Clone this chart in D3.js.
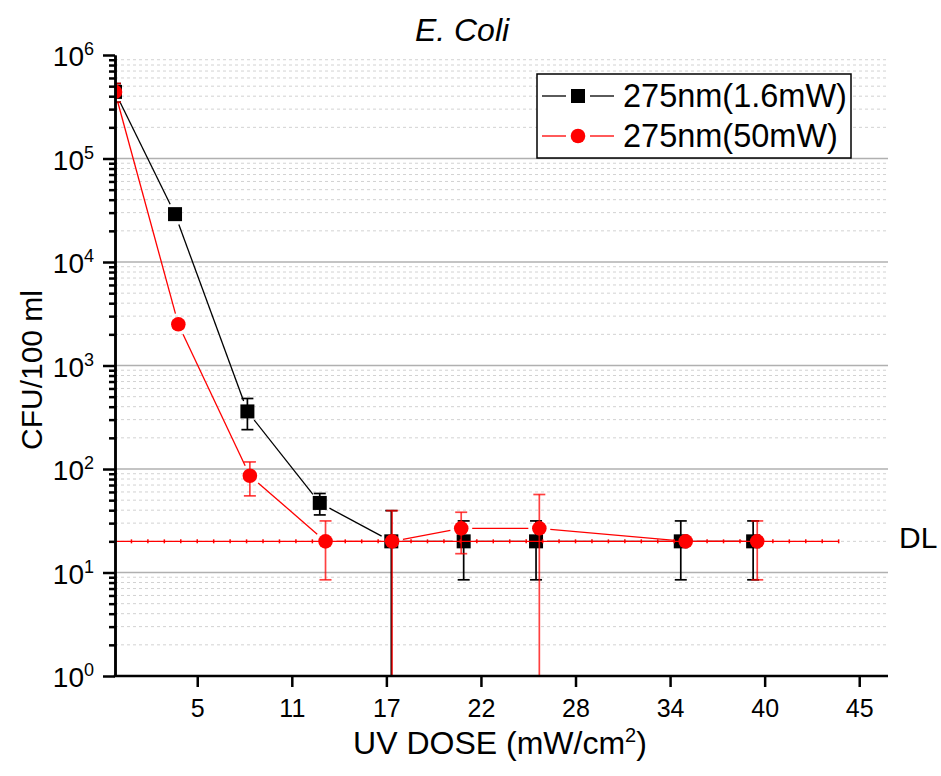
<!DOCTYPE html>
<html>
<head>
<meta charset="utf-8">
<script src="https://cdn.jsdelivr.net/npm/d3@7"></script>
<style>
  body { margin: 0; background: #fff; }
  text { font-family: "Liberation Sans", Arial, sans-serif; fill: #000; }
</style>
</head>
<body>
<div id="chart"></div>
<script>
// data
var doseBlack = [0, 3.65, 8.05, 12.45, 16.8, 21.2, 25.6, 34.4, 38.8];
var cfuBlack = [440000, 29000, 360, 47, 20, 20, 20, 20, 20];
var errBlack = [90000, 3000, 120, 11, 19.6, 11.5, 11.5, 11.5, 11.5];

var doseRed = [0, 3.85, 8.2, 12.8, 16.85, 21.05, 25.8, 34.7, 39.05];
var cfuRed = [440000, 2500, 86, 20, 20, 26.7, 26.7, 20, 20];
var errRed = [90000, 200, 31, 11.5, 19.6, 11.5, 30, 0, 11.5];

// detection limit line, one marker per unit of dose
var dlDose = [0, 1, 2, 3, 4, 5, 6, 7, 8, 9, 10, 11, 12, 13, 14, 15, 16, 17, 18, 19, 20, 21,
              22, 23, 24, 25, 26, 27, 28, 29, 30, 31, 32, 33, 34, 35, 36, 37, 38, 39, 40, 41, 42, 43, 44];
var dlValue = 20;

var xTicks = [5, 10.75, 16.5, 22.25, 28, 33.75, 39.5, 45.25];
var xTickLabels = ['5', '11', '17', '22', '28', '34', '40', '45'];
var yMajor = [1, 10, 100, 1000, 10000, 100000, 1000000];
var yExp = ['0', '1', '2', '3', '4', '5', '6'];
var seriesNames = ['275nm(1.6mW)', '275nm(50mW)'];

var W = 941, H = 776;
var L = 115, R = 888, T = 55, B = 676;

var svg = d3.select('#chart').append('svg').attr('width', W).attr('height', H);

var x = d3.scaleLinear().domain([0, 47]).range([L, R]);
var y = d3.scaleLog().domain([1, 1e6]).range([B, T]).clamp(true);

var yMinor = [];
yMajor.slice(0, -1).forEach(function(d) {
  for (var k = 2; k <= 9; k++) yMinor.push(d * k);
});

// grid
svg.append('g').selectAll('line.minor').data(yMinor).enter().append('line')
  .attr('x1', L).attr('x2', R)
  .attr('y1', function(d) { return y(d); }).attr('y2', function(d) { return y(d); })
  .style('stroke', '#d2d2d2').style('stroke-width', 1).style('stroke-dasharray', '3,3');
svg.append('g').selectAll('line.major').data(yMajor.slice(1, -1)).enter().append('line')
  .attr('x1', L).attr('x2', R)
  .attr('y1', function(d) { return y(d); }).attr('y2', function(d) { return y(d); })
  .style('stroke', '#b0b0b0').style('stroke-width', 1.5);

svg.append('clipPath').attr('id', 'plot').append('rect')
  .attr('x', L).attr('y', T).attr('width', R - L).attr('height', B - T);

var plot = svg.append('g').attr('clip-path', 'url(#plot)');

// line segments with a gap around each symbol
function segments(xs, ys, gap) {
  var out = [];
  for (var i = 0; i < xs.length - 1; i++) {
    var x1 = x(xs[i]), y1 = y(ys[i]), x2 = x(xs[i + 1]), y2 = y(ys[i + 1]);
    var len = Math.hypot(x2 - x1, y2 - y1);
    if (len <= 2 * gap) continue;
    var ux = (x2 - x1) / len, uy = (y2 - y1) / len;
    out.push([x1 + ux * gap, y1 + uy * gap, x2 - ux * gap, y2 - uy * gap]);
  }
  return out;
}

function drawSeries(xs, ys, es, color, barColor, barOpacity, symbol) {
  var g = plot.append('g');
  g.selectAll('line.seg').data(segments(xs, ys, 11)).enter().append('line')
    .attr('x1', function(d) { return d[0]; }).attr('y1', function(d) { return d[1]; })
    .attr('x2', function(d) { return d[2]; }).attr('y2', function(d) { return d[3]; })
    .style('stroke', color).style('stroke-width', 1.3);

  var pts = xs.map(function(d, i) { return { x: d, y: ys[i], e: es[i] }; });
  var bars = g.selectAll('g.bar').data(pts.filter(function(d) { return d.e > 0; })).enter().append('g')
    .style('stroke', barColor).style('stroke-opacity', barOpacity).style('stroke-width', 1.7);
  bars.append('line')
    .attr('x1', function(d) { return x(d.x); }).attr('x2', function(d) { return x(d.x); })
    .attr('y1', function(d) { return y(d.y + d.e); })
    .attr('y2', function(d) { return d.y - d.e > 0 ? y(d.y - d.e) : B + 5; });
  bars.append('line')
    .attr('x1', function(d) { return x(d.x) - 6; }).attr('x2', function(d) { return x(d.x) + 6; })
    .attr('y1', function(d) { return y(d.y + d.e); }).attr('y2', function(d) { return y(d.y + d.e); });
  bars.filter(function(d) { return d.y - d.e > 0; }).append('line')
    .attr('x1', function(d) { return x(d.x) - 6; }).attr('x2', function(d) { return x(d.x) + 6; })
    .attr('y1', function(d) { return y(d.y - d.e); }).attr('y2', function(d) { return y(d.y - d.e); });

  if (symbol === 'square') {
    g.selectAll('rect.pt').data(pts).enter().append('rect')
      .attr('x', function(d) { return x(d.x) - 7; }).attr('y', function(d) { return y(d.y) - 7; })
      .attr('width', 14).attr('height', 14).style('fill', color);
  } else {
    g.selectAll('circle.pt').data(pts).enter().append('circle')
      .attr('cx', function(d) { return x(d.x); }).attr('cy', function(d) { return y(d.y); })
      .attr('r', 7.3).style('fill', color);
  }
}

drawSeries(doseBlack, cfuBlack, errBlack, '#000', '#000', 1, 'square');

// detection limit
plot.append('line')
  .attr('x1', x(dlDose[0])).attr('x2', x(dlDose[dlDose.length - 1]))
  .attr('y1', y(dlValue)).attr('y2', y(dlValue))
  .style('stroke', '#ff0000').style('stroke-width', 1.3);
plot.selectAll('line.dl').data(dlDose).enter().append('line')
  .attr('x1', function(d) { return x(d); }).attr('x2', function(d) { return x(d); })
  .attr('y1', y(dlValue) - 2).attr('y2', y(dlValue) + 2)
  .style('stroke', '#ff0000').style('stroke-width', 1.5);

drawSeries(doseRed, cfuRed, errRed, '#ff0000', '#ff0000', 0.75, 'circle');

// axes
var xAxis = d3.axisBottom(x).tickValues(xTicks)
  .tickFormat(function(d, i) { return xTickLabels[i]; })
  .tickSize(11).tickSizeOuter(0).tickPadding(12);
var gx = svg.append('g').attr('transform', 'translate(0,' + B + ')').call(xAxis);
gx.selectAll('text').style('font-size', '25px').style('font-family', '"Liberation Sans", Arial, sans-serif');

var gyMinor = svg.append('g').attr('transform', 'translate(' + L + ',0)')
  .call(d3.axisLeft(y).tickValues(yMinor).tickFormat('').tickSize(6).tickSizeOuter(0));
var gy = svg.append('g').attr('transform', 'translate(' + L + ',0)')
  .call(d3.axisLeft(y).tickValues(yMajor).tickFormat('').tickSize(12).tickSizeOuter(0));

[gx, gy, gyMinor].forEach(function(g) {
  g.selectAll('path, line').style('stroke', '#000').style('stroke-width', 2.5);
});
gx.select('.domain').attr('d', 'M' + (L - 1.25) + ',0H' + R);

var ylab = svg.append('g').selectAll('text').data(yMajor).enter().append('text')
  .attr('x', 94).attr('y', function(d) { return y(d) + 11; })
  .attr('text-anchor', 'end').style('font-size', '28px');
ylab.append('tspan').text('10');
ylab.append('tspan').attr('dy', -11).style('font-size', '18px').text(function(d, i) { return yExp[i]; });

// titles
svg.append('text').attr('x', 462).attr('y', 41).attr('text-anchor', 'middle')
  .style('font-size', '32px').style('font-style', 'italic').text('E. Coli');

svg.append('text').attr('transform', 'translate(42,370) rotate(-90)').attr('text-anchor', 'middle')
  .style('font-size', '30px').text('CFU/100 ml');

var xl = svg.append('text').attr('x', 500).attr('y', 754).attr('text-anchor', 'middle').style('font-size', '32px');
xl.append('tspan').text('UV DOSE (mW/cm');
xl.append('tspan').attr('dy', -12).style('font-size', '20px').text('2');
xl.append('tspan').attr('dy', 12).text(')');

svg.append('text').attr('x', 899).attr('y', 548).style('font-size', '30px').text('DL');

// legend
var lg = svg.append('g');
lg.append('rect').attr('x', 537).attr('y', 74).attr('width', 314).attr('height', 84)
  .style('fill', '#fff').style('stroke', '#000').style('stroke-width', 1.5);
var rows = [
  { name: seriesNames[0], color: '#000', sym: 'square', cy: 96 },
  { name: seriesNames[1], color: '#ff0000', sym: 'circle', cy: 136 }
];
rows.forEach(function(r) {
  lg.append('line').attr('x1', 542).attr('x2', 566).attr('y1', r.cy).attr('y2', r.cy)
    .style('stroke', r.color).style('stroke-width', 1.3);
  lg.append('line').attr('x1', 590).attr('x2', 614).attr('y1', r.cy).attr('y2', r.cy)
    .style('stroke', r.color).style('stroke-width', 1.3);
  if (r.sym === 'square') {
    lg.append('rect').attr('x', 571).attr('y', r.cy - 7).attr('width', 14).attr('height', 14).style('fill', r.color);
  } else {
    lg.append('circle').attr('cx', 578).attr('cy', r.cy).attr('r', 7.3).style('fill', r.color);
  }
  lg.append('text').attr('x', 623).attr('y', r.cy + 11).style('font-size', '32.5px').text(r.name);
});
</script>
</body>
</html>
